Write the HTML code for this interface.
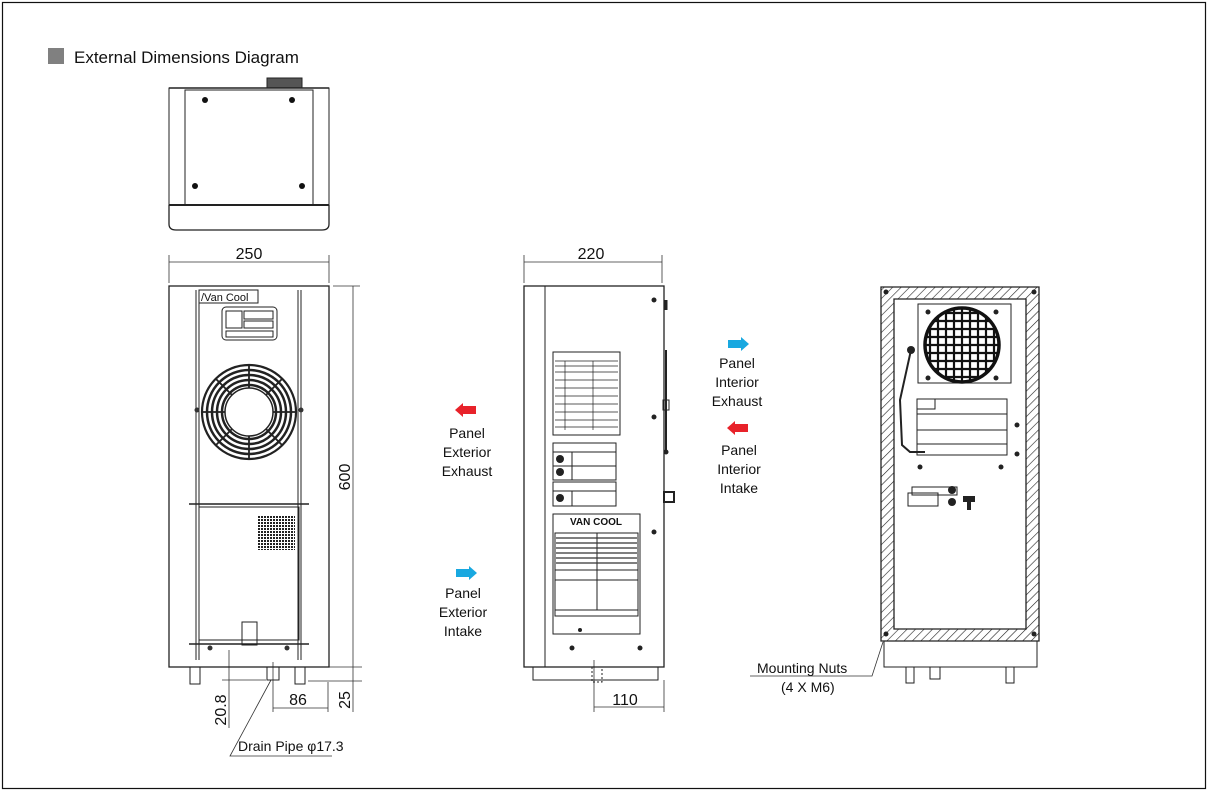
<!DOCTYPE html>
<html><head><meta charset="utf-8"><style>
html,body{margin:0;padding:0;background:#fff}
svg{display:block}
text{font-family:"Liberation Sans",sans-serif;fill:#111}
</style></head><body>
<svg width="1208" height="791" viewBox="0 0 1208 791" xmlns="http://www.w3.org/2000/svg">
<defs>
<pattern id="h" width="6" height="6" patternUnits="userSpaceOnUse" patternTransform="rotate(45)">
<rect width="6" height="6" fill="#fff"/><line x1="0" y1="0" x2="0" y2="6" stroke="#222" stroke-width="1.2"/>
</pattern>
<pattern id="g" width="3" height="3" patternUnits="userSpaceOnUse"><rect width="3" height="3" fill="#fff"/><rect width="2" height="2" fill="#222"/></pattern>
<clipPath id="fc"><circle cx="962" cy="345" r="37"/></clipPath>
</defs>
<rect x="2.5" y="2.5" width="1203" height="786" fill="none" stroke="#111" stroke-width="1.2"/>
<rect x="48" y="48" width="16" height="16" fill="#808080"/>
<text x="74" y="63" font-size="17">External Dimensions Diagram</text>

<g fill="none" stroke="#222" stroke-width="1">
<rect x="267" y="78" width="35" height="10" fill="#555"/>
<line x1="169" y1="88" x2="329" y2="88" stroke-width="1.5"/>
<rect x="169" y="88" width="160" height="117"/>
<rect x="185" y="90" width="128" height="115"/>
<path d="M169 205 L169 224 Q169 230 176 230 L322 230 Q329 230 329 224 L329 205" stroke-width="1.3"/>
<line x1="169" y1="205" x2="329" y2="205" stroke-width="2"/>
</g>
<g fill="#111"><circle cx="205" cy="100" r="3"/><circle cx="292" cy="100" r="3"/><circle cx="195" cy="186" r="3"/><circle cx="302" cy="186" r="3"/></g>

<g stroke="#333" stroke-width="0.8" fill="none">
<line x1="169" y1="255" x2="169" y2="283"/><line x1="329" y1="255" x2="329" y2="283"/>
<line x1="169" y1="262" x2="329" y2="262"/>
<line x1="333" y1="286" x2="360" y2="286"/><line x1="310" y1="667" x2="362" y2="667"/><line x1="308" y1="681" x2="362" y2="681"/>
<line x1="353" y1="286" x2="353" y2="712"/>
<line x1="273" y1="662" x2="273" y2="712"/><line x1="328" y1="682" x2="328" y2="712"/>
<line x1="273" y1="708" x2="328" y2="708"/>
<line x1="229" y1="650" x2="229" y2="728"/><line x1="222" y1="680" x2="266" y2="680"/>
<polyline points="271,680 230,756 332,756"/>
<line x1="524" y1="255" x2="524" y2="283"/><line x1="662" y1="255" x2="662" y2="283"/>
<line x1="524" y1="262" x2="662" y2="262"/>
<line x1="594" y1="660" x2="594" y2="712"/><line x1="664" y1="680" x2="664" y2="712"/>
<line x1="594" y1="707" x2="664" y2="707"/>
<polyline points="883,642 872,676 750,676"/>
</g>
<text x="249" y="259" font-size="16" text-anchor="middle">250</text>
<text x="591" y="259" font-size="16" text-anchor="middle">220</text>
<text x="298" y="705" font-size="16" text-anchor="middle">86</text>
<text x="625" y="705" font-size="16" text-anchor="middle">110</text>
<text font-size="16" text-anchor="middle" transform="translate(350,477) rotate(-90)">600</text>
<text font-size="16" text-anchor="middle" transform="translate(350,700) rotate(-90)">25</text>
<text font-size="16" text-anchor="middle" transform="translate(226,710) rotate(-90)">20.8</text>
<text x="238" y="751" font-size="14">Drain Pipe φ17.3</text>
<text x="757" y="673" font-size="14">Mounting Nuts</text>
<text x="781" y="692" font-size="14">(4 X M6)</text>

<g fill="none" stroke="#222" stroke-width="1">
<rect x="169" y="286" width="160" height="381" stroke-width="1.3"/>
<line x1="196" y1="290" x2="196" y2="660"/><line x1="199" y1="290" x2="199" y2="660"/>
<line x1="298" y1="290" x2="298" y2="660"/><line x1="301" y1="290" x2="301" y2="660"/>
<rect x="199" y="290" width="59" height="13"/>
<rect x="222" y="307" width="55" height="33" rx="4"/>
<rect x="226" y="311" width="16" height="17"/><rect x="244" y="311" width="29" height="8"/><rect x="244" y="321" width="29" height="7"/><rect x="226" y="331" width="47" height="6"/>
<line x1="189" y1="504" x2="309" y2="504" stroke-width="1.5"/>
<rect x="199" y="507" width="100" height="133"/>
<rect x="242" y="622" width="15" height="23"/>
<line x1="189" y1="644" x2="309" y2="644" stroke-width="1.5"/>
<rect x="190" y="667" width="10" height="17"/><rect x="295" y="667" width="10" height="17"/><rect x="267" y="667" width="12" height="13"/>
<circle cx="249" cy="412" r="47" stroke-width="2.2"/>
<circle cx="249" cy="412" r="42" stroke-width="2.5"/>
<circle cx="249" cy="412" r="37" stroke-width="2.5"/>
<circle cx="249" cy="412" r="32" stroke-width="2.5"/>
<circle cx="249" cy="412" r="27" stroke-width="2.5"/>
<circle cx="249" cy="412" r="24" stroke-width="1.5"/>
</g>
<g stroke="#222" stroke-width="1.8"><path d="M249 365 L249 388 M249 436 L249 459 M202 412 L225 412 M273 412 L296 412 M216 379 L232 395 M266 429 L282 445 M282 379 L266 395 M232 429 L216 445"/></g>
<text x="201" y="301" font-size="11" font-family="Liberation Mono">/Van Cool</text>
<rect x="258" y="515" width="37" height="35" fill="url(#g)"/>
<g fill="#333"><circle cx="197" cy="410" r="2.5"/><circle cx="301" cy="410" r="2.5"/><circle cx="210" cy="648" r="2.5"/><circle cx="287" cy="648" r="2.5"/></g>

<g fill="none" stroke="#222" stroke-width="1">
<rect x="524" y="286" width="140" height="381" stroke-width="1.3"/>
<line x1="545" y1="286" x2="545" y2="667"/>
<rect x="533" y="667" width="125" height="13"/>
<rect x="592" y="667" width="10" height="15" stroke-dasharray="2,2"/>
<line x1="666" y1="300" x2="666" y2="310" stroke-width="3"/>
<line x1="666" y1="350" x2="666" y2="452" stroke-width="2"/>
<rect x="663" y="400" width="6" height="10"/>
<rect x="664" y="492" width="10" height="10" stroke-width="2"/>
<rect x="553" y="352" width="67" height="83"/>
<g stroke-width="0.7"><line x1="555" y1="361" x2="618" y2="361"/><line x1="555" y1="366" x2="618" y2="366"/><line x1="555" y1="372" x2="618" y2="372"/><line x1="555" y1="380" x2="618" y2="380"/><line x1="555" y1="388" x2="618" y2="388"/><line x1="555" y1="396" x2="618" y2="396"/><line x1="555" y1="404" x2="618" y2="404"/><line x1="555" y1="412" x2="618" y2="412"/><line x1="555" y1="420" x2="618" y2="420"/><line x1="555" y1="427" x2="618" y2="427"/><line x1="565" y1="361" x2="565" y2="430"/><line x1="593" y1="361" x2="593" y2="430"/></g>
<rect x="553" y="443" width="63" height="37"/><line x1="553" y1="452" x2="616" y2="452"/><line x1="553" y1="466" x2="616" y2="466"/><line x1="572" y1="452" x2="572" y2="480"/>
<rect x="553" y="482" width="63" height="24"/><line x1="553" y1="491" x2="616" y2="491"/><line x1="572" y1="491" x2="572" y2="506"/>
<rect x="553" y="514" width="87" height="120"/>
<rect x="555" y="533" width="83" height="83"/>
<line x1="555" y1="570" x2="638" y2="570"/><line x1="555" y1="580" x2="638" y2="580"/><line x1="597" y1="533" x2="597" y2="610"/><line x1="555" y1="610" x2="638" y2="610"/>
</g>
<g stroke="#333" stroke-width="1.3"><line x1="556" y1="538" x2="637" y2="538"/><line x1="556" y1="543" x2="637" y2="543"/><line x1="556" y1="548" x2="637" y2="548"/><line x1="556" y1="553" x2="637" y2="553"/><line x1="556" y1="558" x2="637" y2="558"/><line x1="556" y1="563" x2="637" y2="563"/></g>
<text x="596" y="525" font-size="10" font-weight="bold" text-anchor="middle">VAN COOL</text>
<g fill="#222"><circle cx="560" cy="459" r="4"/><circle cx="560" cy="472" r="4"/><circle cx="560" cy="498" r="4"/><circle cx="666" cy="452" r="2.5"/><circle cx="654" cy="300" r="2.5"/><circle cx="654" cy="417" r="2.5"/><circle cx="654" cy="532" r="2.5"/><circle cx="572" cy="648" r="2.5"/><circle cx="640" cy="648" r="2.5"/><circle cx="580" cy="630" r="2"/></g>

<path d="M455 410 L463 403 L463 406 L476 406 L476 414 L463 414 L463 417 Z" fill="#e8222a"/>
<path d="M477 573 L469 566 L469 569 L456 569 L456 577 L469 577 L469 580 Z" fill="#18a8e0"/>
<path d="M749 344 L741 337 L741 340 L728 340 L728 348 L741 348 L741 351 Z" fill="#18a8e0"/>
<path d="M727 428 L735 421 L735 424 L748 424 L748 432 L735 432 L735 435 Z" fill="#e8222a"/>
<g font-size="14" text-anchor="middle">
<text x="467" y="438">Panel</text><text x="467" y="457">Exterior</text><text x="467" y="476">Exhaust</text>
<text x="463" y="598">Panel</text><text x="463" y="617">Exterior</text><text x="463" y="636">Intake</text>
<text x="737" y="368">Panel</text><text x="737" y="387">Interior</text><text x="737" y="406">Exhaust</text>
<text x="739" y="455">Panel</text><text x="739" y="474">Interior</text><text x="739" y="493">Intake</text>
</g>

<path d="M881 287 H1039 V641 H881 Z M894 299 V629 H1026 V299 Z" fill="url(#h)" fill-rule="evenodd" stroke="#222" stroke-width="1.3"/>
<g fill="none" stroke="#222" stroke-width="1">
<rect x="918" y="304" width="93" height="79"/>
<rect x="884" y="641" width="153" height="26"/>
<rect x="906" y="667" width="8" height="16"/><rect x="930" y="667" width="10" height="12"/><rect x="1006" y="667" width="8" height="16"/>
<rect x="917" y="399" width="90" height="56"/><rect x="917" y="399" width="18" height="10"/>
<line x1="917" y1="414" x2="1007" y2="414"/><line x1="917" y1="430" x2="1007" y2="430"/><line x1="917" y1="444" x2="1007" y2="444"/>
<rect x="908" y="493" width="30" height="13"/><rect x="912" y="487" width="45" height="8"/>
<path d="M911 350 L900 400 L902 445 L910 452 L925 452" stroke-width="2"/>
</g>
<circle cx="962" cy="345" r="37" fill="#fff"/>
<g stroke="#111" stroke-width="2.2" clip-path="url(#fc)">
<path d="M930 300 V390 M938 300 V390 M946 300 V390 M954 300 V390 M962 300 V390 M970 300 V390 M978 300 V390 M986 300 V390 M994 300 V390 M920 313 H1004 M920 321 H1004 M920 329 H1004 M920 337 H1004 M920 345 H1004 M920 353 H1004 M920 361 H1004 M920 369 H1004 M920 377 H1004"/>
</g>
<circle cx="962" cy="345" r="37" fill="none" stroke="#111" stroke-width="3.5"/>
<g fill="#222"><circle cx="911" cy="350" r="4"/><circle cx="928" cy="312" r="2.5"/><circle cx="996" cy="312" r="2.5"/><circle cx="928" cy="378" r="2.5"/><circle cx="996" cy="378" r="2.5"/><circle cx="1017" cy="425" r="2.5"/><circle cx="1017" cy="454" r="2.5"/><circle cx="920" cy="467" r="2.5"/><circle cx="1001" cy="467" r="2.5"/><circle cx="952" cy="490" r="4"/><circle cx="952" cy="502" r="4"/><rect x="963" y="496" width="12" height="6"/><rect x="967" y="500" width="4" height="10"/><circle cx="886" cy="292" r="2.5"/><circle cx="1034" cy="292" r="2.5"/><circle cx="886" cy="634" r="2.5"/><circle cx="1034" cy="634" r="2.5"/></g>
</svg>
</body></html>
